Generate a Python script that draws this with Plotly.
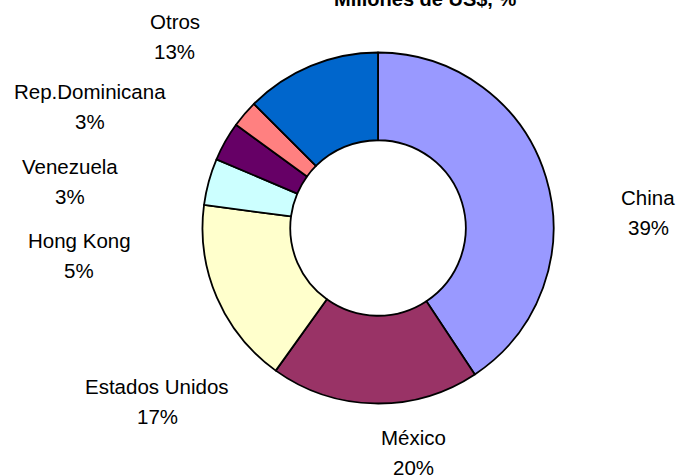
import plotly.graph_objects as go

# Data
categories = ["China", "México", "Estados Unidos", "Hong Kong", "Venezuela", "Rep.Dominicana", "Otros"]
shares = [40.7, 19.2, 17.2, 4.3, 3.6, 2.5, 12.5]           # slice sizes
pct_labels = ["39%", "20%", "17%", "5%", "3%", "3%", "13%"]  # percentages printed on the chart
colors = ["#9999FF", "#993366", "#FFFFCC", "#CCFFFF", "#660066", "#FF8080", "#0066CC"]
title_text = "Millones de US$, %"

# Label block centres (pixels, from top-left) - layout only
label_pos = {
    "China": (648, 212),
    "México": (414, 452),
    "Estados Unidos": (157, 401),
    "Hong Kong": (79, 255),
    "Venezuela": (70, 181),
    "Rep.Dominicana": (90, 106),
    "Otros": (175, 37),
}
line_gap = 30  # px between the two text lines

W, H = 678, 476
cx, cy, R = 378, 228, 175.5

fig = go.Figure(go.Pie(
    labels=categories,
    values=shares,
    sort=False,
    direction="clockwise",
    rotation=0,
    hole=0.5,
    marker=dict(colors=colors, line=dict(color="black", width=1.8)),
    textinfo="none",
    hoverinfo="label+percent",
    showlegend=False,
    domain=dict(x=[(cx - R) / W, (cx + R) / W], y=[(H - cy - R) / H, (H - cy + R) / H]),
))

font = dict(family="Liberation Sans, Arial, sans-serif", size=20.5, color="black")
annotations = []
for cat, pct in zip(categories, pct_labels):
    px, py = label_pos[cat]
    for txt, dy in ((cat, -line_gap / 2), (pct, line_gap / 2)):
        annotations.append(dict(
            x=px / W, y=(H - (py + dy)) / H, xref="paper", yref="paper",
            text=txt, showarrow=False,
            xanchor="center", yanchor="middle", align="center",
            font=font,
        ))
annotations.append(dict(
    x=425 / W, y=(H + 1) / H, xref="paper", yref="paper",
    text=f"<b>{title_text}</b>", showarrow=False,
    xanchor="center", yanchor="middle",
    font=dict(family="Liberation Sans, Arial, sans-serif", size=20, color="black"),
))

fig.update_layout(
    width=W, height=H,
    margin=dict(l=0, r=0, t=0, b=0),
    paper_bgcolor="white", plot_bgcolor="white",
    annotations=annotations,
)

fig.write_html(
    "out.html",
    config={"displayModeBar": False},
    post_script="document.body.style.margin='0';document.body.style.overflow='hidden';",
)
